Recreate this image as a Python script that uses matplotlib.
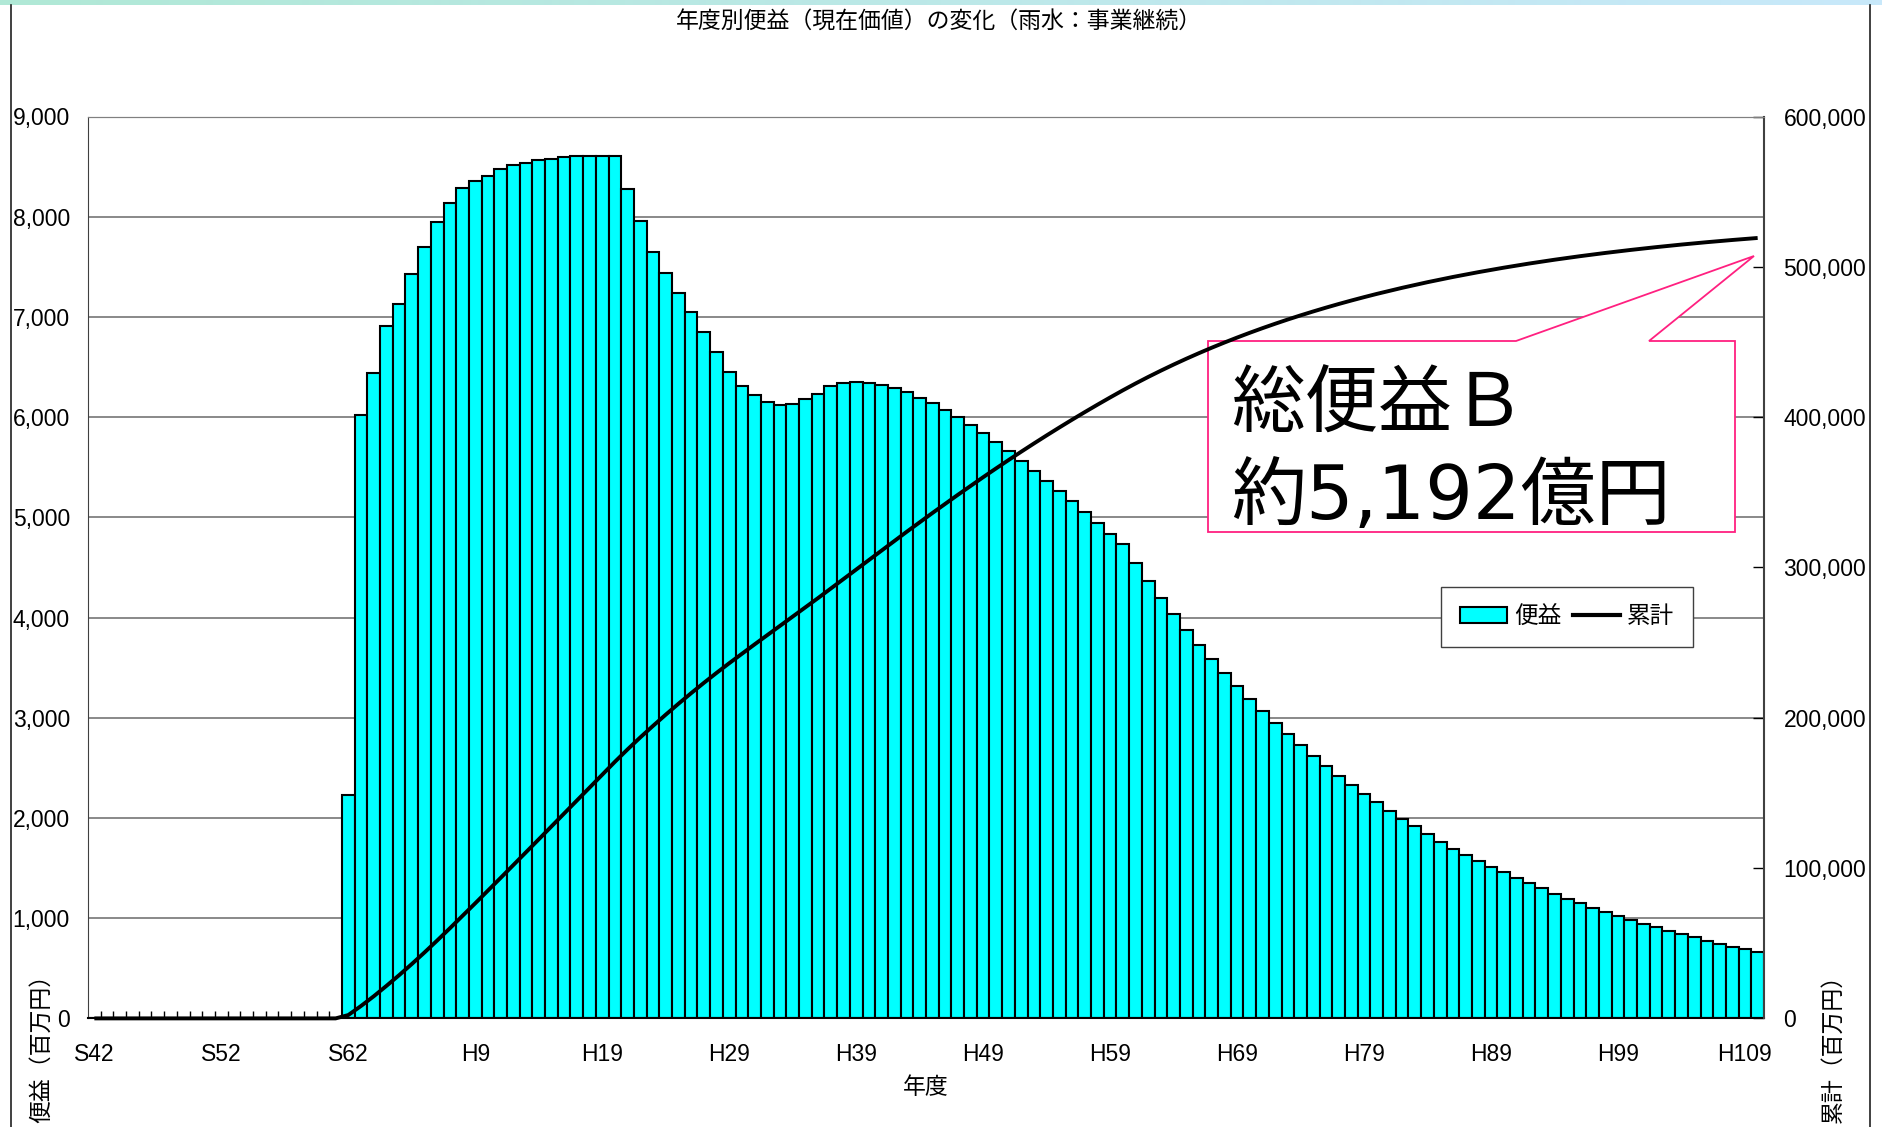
import matplotlib
matplotlib.use('Agg')
import matplotlib.pyplot as plt
from matplotlib.patches import Polygon, Patch
from matplotlib.lines import Line2D
import numpy as np

plt.rcParams['font.family'] = ['Liberation Sans', 'Noto Sans CJK JP']

# 年度 S42 .. H110 (132 categories), benefit in 百万円
n_years = 132
benefit = [0] * 20 + [
    2230, 6020, 6440, 6910, 7130, 7430, 7700, 7950, 8140, 8290,
    8360, 8410, 8480, 8520, 8540, 8565, 8580, 8595, 8605, 8610,
    8610, 8610, 8275, 7960, 7650, 7440, 7240, 7050, 6845, 6645,
    6455, 6310, 6220, 6155, 6125, 6135, 6185, 6235, 6315, 6340,
    6350, 6340, 6320, 6290, 6250, 6195, 6140, 6075, 6005, 5920,
    5840, 5750, 5660, 5565, 5465, 5365, 5265, 5160, 5050, 4945,
    4835, 4730, 4545, 4365, 4195, 4040, 3880, 3730, 3590, 3450,
    3315, 3190, 3065, 2945, 2840, 2725, 2620, 2520, 2420, 2325,
    2235, 2155, 2065, 1990, 1915, 1840, 1765, 1695, 1635, 1570,
    1510, 1462, 1402, 1352, 1300, 1245, 1196, 1150, 1106, 1063,
    1020, 983, 944, 910, 874, 841, 808, 775, 745, 715,
    688, 658,
]
year_ticks = [0, 10, 20, 30, 40, 50, 60, 70, 80, 90, 100, 110, 120, 130]
year_labels = ['S42', 'S52', 'S62', 'H9', 'H19', 'H29', 'H39', 'H49',
               'H59', 'H69', 'H79', 'H89', 'H99', 'H109']
left_ticks = [0, 1000, 2000, 3000, 4000, 5000, 6000, 7000, 8000, 9000]
right_ticks = [0, 100000, 200000, 300000, 400000, 500000, 600000]

title = '年度別便益（現在価値）の変化（雨水：事業継続）'
note1 = '総便益Ｂ'
note2 = '約5,192億円'

W, H = 1883, 1127


def fx(px):
    return px / W


def fy(py):
    return 1 - py / H


fig = plt.figure(figsize=(W / 100, H / 100), dpi=100)

# top gradient strip
gax = fig.add_axes([0, fy(5), 1, 5 / H])
c0 = np.array([176, 232, 214]) / 255
c1 = np.array([200, 232, 250]) / 255
t = np.linspace(0, 1, 256)[:, None]
grad = (c0 * (1 - t) + c1 * t)[None, :, :]
gax.imshow(grad, aspect='auto')
gax.axis('off')

# chart-area border lines
fig.add_artist(Line2D([fx(11), fx(11)], [fy(5), 0], color='#202020', lw=1.2))
fig.add_artist(Line2D([fx(1870), fx(1870)], [fy(5), 0], color='#202020', lw=1.2))

ax = fig.add_axes([fx(88), fy(1018.4), fx(1764) - fx(88), fy(116.5) - fy(1018.4)])
ax2 = ax.twinx()

x = np.arange(n_years)
ax.bar(x, benefit, width=1.0, color='#00FFFF', edgecolor='black', linewidth=1.5, zorder=2)
ax.set_xlim(-0.5, n_years - 0.5)
ax.set_ylim(0, 9000)
ax.set_axisbelow(True)
ax.yaxis.grid(True, color='#808080', linewidth=1.3)

ax.set_xticks(year_ticks)
ax.set_xticklabels(year_labels)
ax.set_xticks(np.arange(0.5, n_years - 1, 1), minor=True)
ax.tick_params(axis='x', which='major', length=0, pad=17.5, labelsize=16.5)
ax.tick_params(axis='x', which='minor', direction='in', length=5, width=1, color='black')

ax.set_yticks(left_ticks)
ax.set_yticklabels([f'{v:,}' for v in left_ticks])
ax.tick_params(axis='y', length=0, pad=13, labelsize=16.5)

ax.spines['top'].set_color('#808080')
ax.spines['left'].set_color('#404040')
ax.spines['bottom'].set_color('black')
ax.spines['bottom'].set_linewidth(1.5)
ax.spines['right'].set_visible(False)

cumulative = np.cumsum(benefit)
ax2.plot(x, cumulative, color='black', lw=2.8, clip_on=False, solid_capstyle='butt')
ax2.set_ylim(0, 600000)
ax2.set_yticks(right_ticks)
ax2.set_yticklabels([f'{v:,}' for v in right_ticks])
ax2.tick_params(axis='y', direction='in', length=8, width=1, pad=14, labelsize=16.5)
ax2.spines['left'].set_visible(False)
ax2.spines['bottom'].set_visible(False)
ax2.spines['top'].set_color('#808080')
ax2.spines['right'].set_color('#404040')
ax2.spines['right'].set_linewidth(1.5)

# callout box
pts = [(1208, 341), (1516, 341), (1754, 256), (1649, 341), (1735, 341),
       (1735, 532), (1208, 532)]
ax.add_patch(Polygon([(fx(a), fy(b)) for a, b in pts], closed=True,
                     transform=fig.transFigure, facecolor='white',
                     edgecolor='#FF2080', lw=1.3, zorder=5, clip_on=False))
ax.text(fx(1231), fy(406), note1, transform=fig.transFigure, fontsize=53,
        ha='left', va='center', family=['Noto Sans CJK JP'], zorder=6)
ax.text(fx(1231), fy(499), note2, transform=fig.transFigure, fontsize=54,
        ha='left', va='center', family=['DejaVu Sans', 'Noto Sans CJK JP'], zorder=6)

handles = [Patch(facecolor='#00FFFF', edgecolor='black', lw=1.5, label='便益'),
           Line2D([], [], color='black', lw=3.0, label='累計')]
leg = ax2.legend(handles=handles, loc='center', bbox_to_anchor=(fx(1567), fy(617)),
                 bbox_transform=fig.transFigure, ncol=2, frameon=True, fancybox=False,
                 edgecolor='#404040', framealpha=1, fontsize=17, handlelength=2.0,
                 handletextpad=0.3, columnspacing=0.5, borderpad=0.8)
leg.get_frame().set_linewidth(1.0)

fig.text(fx(939), fy(22), title, ha='center', va='center', fontsize=16.5)
fig.text(fx(926), fy(1088), '年度', ha='center', va='center', fontsize=16.5)
fig.text(fx(42), fy(963), '便益（百万円）', rotation=90, ha='center', va='top', fontsize=16.5)
fig.text(fx(1833), fy(963), '累計（百万円）', rotation=90, ha='center', va='top', fontsize=16.5)

fig.savefig('out.png', dpi=100)
